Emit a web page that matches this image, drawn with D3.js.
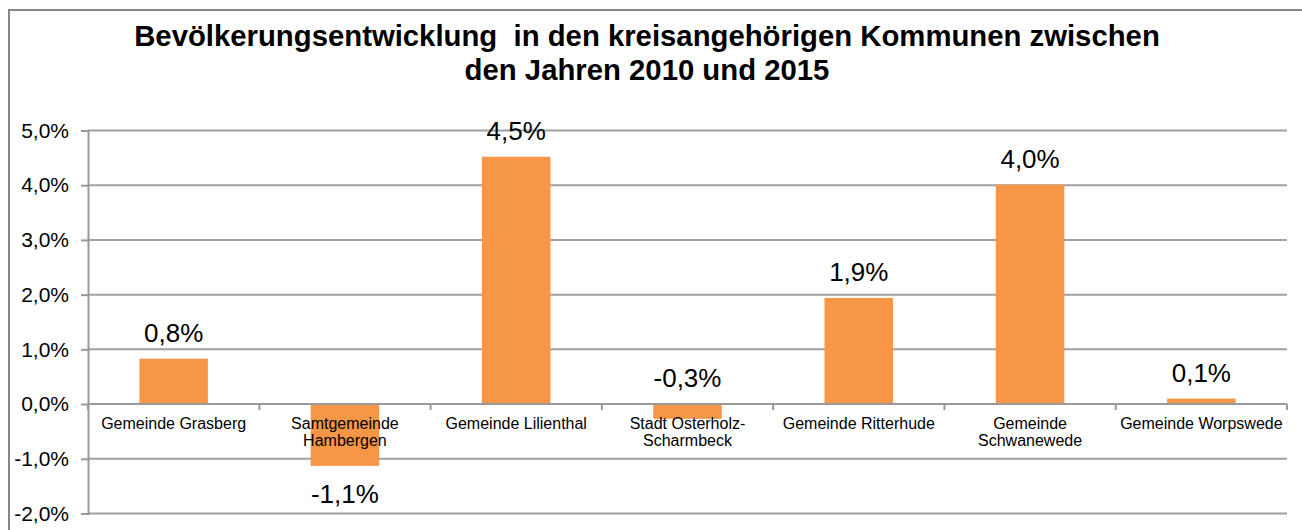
<!DOCTYPE html>
<html>
<head>
<meta charset="utf-8">
<script src="https://cdn.jsdelivr.net/npm/d3@7"></script>
<style>
  body { margin: 0; background: #fff; }
  svg { display: block; font-family: "Liberation Sans", Arial, sans-serif; }
</style>
</head>
<body>
<div id="chart"></div>
<script>
const categories = [
    ['Gemeinde Grasberg'],
    ['Samtgemeinde', 'Hambergen'],
    ['Gemeinde Lilienthal'],
    ['Stadt Osterholz-', 'Scharmbeck'],
    ['Gemeinde Ritterhude'],
    ['Gemeinde', 'Schwanewede'],
    ['Gemeinde Worpswede']
];
const values = [0.83, -1.13, 4.52, -0.27, 1.94, 4.01, 0.1];
const yTicks = [-2, -1, 0, 1, 2, 3, 4, 5];
const titleLines = ['Bevölkerungsentwicklung  in den kreisangehörigen Kommunen zwischen', 'den Jahren 2010 und 2015'];

const width = 1302, height = 530;
const margin = { top: 130.5, right: 15, bottom: 16.5, left: 88 };
const plotW = width - margin.left - margin.right;
const plotH = height - margin.top - margin.bottom;
const fmt = v => d3.format('.1f')(v).replace('.', ',').replace('\u2212', '-') + '%';

const svg = d3.select('#chart')
    .append('svg')
    .attr('width', width)
    .attr('height', height);

// outer frame
svg.append('rect')
    .attr('x', 9).attr('y', 10)
    .attr('width', 1320).attr('height', 600)
    .attr('fill', 'none')
    .attr('stroke', '#878787')
    .attr('stroke-width', 2);

svg.append('g')
    .selectAll('text')
    .data(titleLines)
    .enter()
    .append('text')
    .attr('x', 647)
    .attr('y', (d, i) => 46 + i * 34)
    .attr('text-anchor', 'middle')
    .attr('font-weight', 'bold')
    .attr('font-size', '29.3px')
    .style('white-space', 'pre')
    .text(d => d);

const g = svg.append('g')
    .attr('transform', `translate(${margin.left},${margin.top})`);

const x = d3.scaleBand()
    .range([0, plotW])
    .domain(d3.range(categories.length))
    .paddingInner(0.6)
    .paddingOuter(0.3);

const xb = d3.scaleLinear()
    .domain([0, categories.length])
    .range([0, plotW]);

const y = d3.scaleLinear()
    .domain([-2, 5])
    .range([plotH, 0]);

// gridlines
g.append('g')
    .selectAll('line')
    .data(yTicks)
    .enter()
    .append('line')
    .attr('x1', 0).attr('x2', plotW)
    .attr('y1', d => y(d)).attr('y2', d => y(d))
    .attr('stroke', '#a0a0a0')
    .attr('stroke-width', 2);

// y axis
const yAxis = g.append('g')
    .call(d3.axisLeft(y).tickValues(yTicks).tickSize(7).tickPadding(12).tickFormat(d => fmt(d)));
yAxis.select('.domain').attr('stroke', '#999').attr('stroke-width', 2);
yAxis.selectAll('.tick line').attr('stroke', '#999').attr('stroke-width', 2);
yAxis.selectAll('text')
    .attr('font-size', '21px')
    .attr('fill', '#000')
    .attr('font-family', '"Liberation Sans", Arial, sans-serif');

// bars
g.selectAll('.bar')
    .data(values)
    .enter()
    .append('rect')
    .attr('class', 'bar')
    .attr('x', (d, i) => x(i))
    .attr('width', x.bandwidth())
    .attr('y', d => y(Math.max(d, 0)))
    .attr('height', d => Math.abs(y(d) - y(0)))
    .attr('fill', '#f79646');

// zero axis with category ticks
g.append('line')
    .attr('x1', 0).attr('x2', plotW)
    .attr('y1', y(0)).attr('y2', y(0))
    .attr('stroke', '#999')
    .attr('stroke-width', 2);
g.append('g')
    .selectAll('line')
    .data(d3.range(categories.length + 1))
    .enter()
    .append('line')
    .attr('x1', d => xb(d)).attr('x2', d => xb(d))
    .attr('y1', y(0)).attr('y2', y(0) + 6)
    .attr('stroke', '#999')
    .attr('stroke-width', 2);

// category labels
const catLabels = g.append('g')
    .selectAll('text')
    .data(categories)
    .enter()
    .append('text')
    .attr('x', (d, i) => x(i) + x.bandwidth() / 2)
    .attr('y', y(0) + 25)
    .attr('text-anchor', 'middle')
    .attr('font-size', '16px')
    .attr('fill', '#000');
catLabels.selectAll('tspan')
    .data(d => d)
    .enter()
    .append('tspan')
    .attr('x', function() { return d3.select(this.parentNode).attr('x'); })
    .attr('dy', (d, i) => i === 0 ? 0 : 17)
    .text(d => d);

// data labels: above the bar, or below for a long negative bar
g.selectAll('.label')
    .data(values)
    .enter()
    .append('text')
    .attr('class', 'label')
    .attr('x', (d, i) => x(i) + x.bandwidth() / 2)
    .attr('y', d => d < -0.5 ? y(d) + 37 : y(Math.max(d, 0)) - 17)
    .attr('text-anchor', 'middle')
    .attr('font-size', '26px')
    .attr('fill', '#000')
    .text(d => fmt(d));
</script>
</body>
</html>
